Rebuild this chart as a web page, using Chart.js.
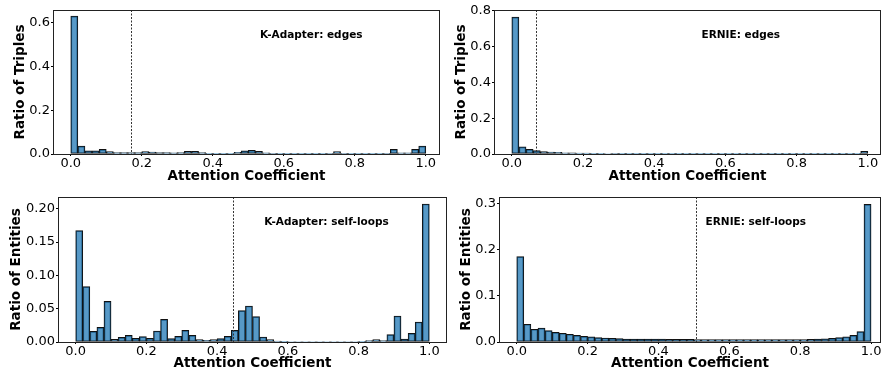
<!DOCTYPE html>
<html><head><meta charset="utf-8">
<script src="https://cdn.jsdelivr.net/npm/chart.js@4.4.0/dist/chart.umd.min.js"></script>
<style>
html,body{margin:0;padding:0;background:#fff;width:882px;height:373px;overflow:hidden;}
canvas{position:absolute;}
</style></head><body>
<canvas id="c1" width="441" height="186" style="left:0;top:0"></canvas>
<canvas id="c2" width="441" height="186" style="left:441px;top:0"></canvas>
<canvas id="c3" width="450" height="187" style="left:0;top:186px"></canvas>
<canvas id="c4" width="441" height="187" style="left:441px;top:186px"></canvas>
<script>
// ---- data ----
const binCenters = [0.01,0.03,0.05,0.07,0.09,0.11,0.13,0.15,0.17,0.19,
  0.21,0.23,0.25,0.27,0.29,0.31,0.33,0.35,0.37,0.39,
  0.41,0.43,0.45,0.47,0.49,0.51,0.53,0.55,0.57,0.59,
  0.61,0.63,0.65,0.67,0.69,0.71,0.73,0.75,0.77,0.79,
  0.81,0.83,0.85,0.87,0.89,0.91,0.93,0.95,0.97,0.99];
const xTickValues = [0.0,0.2,0.4,0.6,0.8,1.0];

const kaEdgesRatio = [0.630,0.036,0.015,0.015,0.021,0.011,0.006,0.006,0.006,0.006,
  0.011,0.009,0.007,0.006,0.005,0.006,0.012,0.012,0.006,0.003,
  0.003,0.003,0.003,0.008,0.015,0.017,0.012,0.005,0.002,0.001,
  0.001,0.001,0.001,0.001,0.001,0.001,0.002,0.011,0.002,0.001,
  0.001,0.001,0.001,0.001,0.002,0.021,0.005,0.005,0.021,0.036];
const ernieEdgesRatio = [0.765,0.040,0.026,0.019,0.014,0.011,0.009,0.007,0.006,0.005,
  0.0045,0.004,0.0035,0.003,0.0025,0.002,0.002,0.0018,0.0015,0.0013,
  0.0012,0.001,0.001,0.001,0.001,0.001,0.001,0.001,0.001,0.001,
  0.0008,0.0008,0.0008,0.0008,0.0008,0.0008,0.0008,0.0008,0.0008,0.0008,
  0.0008,0.0008,0.0008,0.0008,0.0008,0.0008,0.0008,0.0008,0.0008,0.015];
const kaSelfRatio = [0.167,0.083,0.016,0.022,0.061,0.004,0.007,0.010,0.0055,0.008,
  0.0055,0.0165,0.034,0.005,0.0085,0.0175,0.010,0.0035,0.0025,0.0035,
  0.005,0.0085,0.0175,0.047,0.054,0.038,0.0075,0.0035,0.0015,0.001,
  0.0008,0.0008,0.0008,0.0008,0.0008,0.0008,0.0008,0.0008,0.0008,0.0008,
  0.001,0.002,0.0035,0.002,0.011,0.039,0.0045,0.013,0.030,0.207];
const ernieSelfRatio = [0.185,0.0385,0.0276,0.030,0.0247,0.021,0.019,0.0167,0.0145,0.0123,
  0.011,0.0094,0.0087,0.008,0.0073,0.0065,0.0065,0.0065,0.0065,0.0065,
  0.0065,0.006,0.006,0.006,0.006,0.005,0.005,0.005,0.005,0.005,
  0.005,0.005,0.005,0.005,0.005,0.005,0.005,0.005,0.005,0.005,
  0.005,0.0058,0.0065,0.007,0.008,0.0094,0.011,0.0145,0.0225,0.298];

const yTicksKaEdges = [0.0,0.2,0.4,0.6];
const yTicksErnieEdges = [0.0,0.2,0.4,0.6,0.8];
const yTicksKaSelf = [0.00,0.05,0.10,0.15,0.20];
const yTicksErnieSelf = [0.0,0.1,0.2,0.3];

const kaEdgesThreshold = 0.171;
const ernieEdgesThreshold = 0.069;
const kaSelfThreshold = 0.446;
const ernieSelfThreshold = 0.507;

const panelLabels = ['K-Adapter: edges','ERNIE: edges','K-Adapter: self-loops','ERNIE: self-loops'];
const xTitle = 'Attention Coefficient';
const yTitleEdges = 'Ratio of Triples';
const yTitleSelf = 'Ratio of Entities';

// ---- drawing ----
Chart.defaults.font.family = "'DejaVu Sans'";
Chart.defaults.color = '#000';

const framePlugin = {
  id: 'frame',
  afterDatasetsDraw(chart, args, opts) {
    const {ctx, chartArea: a, scales} = chart;
    ctx.save();
    // threshold line
    const xp = scales.x.getPixelForValue(opts.threshold);
    ctx.strokeStyle = '#333';
    ctx.lineWidth = 1;
    ctx.setLineDash([2, 1.5]);
    ctx.beginPath();
    ctx.moveTo(Math.round(xp) + 0.5, a.top);
    ctx.lineTo(Math.round(xp) + 0.5, a.bottom);
    ctx.stroke();
    ctx.setLineDash([]);
    // frame
    ctx.strokeStyle = '#222';
    ctx.lineWidth = 1;
    ctx.strokeRect(a.left + 0.5, a.top + 0.5, a.right - a.left - 1, a.bottom - a.top);
    // label
    ctx.fillStyle = '#000';
    ctx.font = "bold 10.5px 'DejaVu Sans'";
    ctx.textBaseline = 'middle';
    ctx.textAlign = 'left';
    ctx.fillText(opts.label, scales.x.getPixelForValue(0.533), a.top + 0.175 * (a.bottom - a.top));
    ctx.restore();
  }
};

function makePanel(id, vals, yTicks, yDigits, yMax, xMax, threshold, label, yTitle, cfg) {
  new Chart(document.getElementById(id), {
    type: 'bar',
    data: {
      datasets: [{
        data: binCenters.map((c, i) => ({x: c, y: vals[i]})),
        backgroundColor: 'rgba(31,119,180,0.75)',
        borderColor: '#111',
        borderWidth: 1,
        borderSkipped: false,
        barPercentage: 1,
        categoryPercentage: 1
      }]
    },
    options: {
      responsive: false,
      animation: false,
      devicePixelRatio: 1,
      layout: {padding: {left: 0, top: cfg.top, right: cfg.right, bottom: 0}},
      plugins: {legend: {display: false}, tooltip: {enabled: false},
                frame: {threshold: threshold, label: label}},
      scales: {
        x: {
          type: 'linear', min: -0.05, max: xMax, offset: false,
          border: {display: false},
          grid: {display: true, drawOnChartArea: false, drawTicks: true, tickLength: 2, color: '#000', offset: false},
          ticks: {font: {size: 13}, padding: 0, maxRotation: 0, autoSkip: false,
                  callback: v => Number(v).toFixed(1)},
          afterBuildTicks: s => { s.ticks = xTickValues.map(v => ({value: v})); },
          title: {display: true, text: xTitle, font: {size: 13.5, weight: 'bold'}, padding: {top: 0, bottom: 1}},
          afterFit: s => { s.height = cfg.xh; s.paddingLeft = 0; s.paddingRight = 0; }
        },
        y: {
          type: 'linear', min: 0, max: yMax,
          border: {display: false},
          grid: {display: true, drawOnChartArea: false, drawTicks: true, tickLength: 2, color: '#000'},
          ticks: {font: {size: 13}, padding: 1, autoSkip: false,
                  callback: v => Number(v).toFixed(yDigits)},
          afterBuildTicks: s => { s.ticks = yTicks.map(v => ({value: v})); },
          title: {display: true, text: yTitle, font: {size: 13.5, weight: 'bold'}, padding: {top: cfg.ytp, bottom: 0}},
          afterFit: s => { s.width = cfg.yw; s.paddingTop = 0; s.paddingBottom = 0; }
        }
      }
    },
    plugins: [framePlugin]
  });
}

makePanel('c1', kaEdgesRatio, yTicksKaEdges, 1, 0.658, 1.04, kaEdgesThreshold, panelLabels[0], yTitleEdges,
  {top: 10, right: 1, xh: 32, yw: 53, ytp: 12});
makePanel('c2', ernieEdgesRatio, yTicksErnieEdges, 1, 0.805, 1.037, ernieEdgesThreshold, panelLabels[1], yTitleEdges,
  {top: 10, right: 1, xh: 32, yw: 53, ytp: 12});
makePanel('c3', kaSelfRatio, yTicksKaSelf, 2, 0.2175, 1.05, kaSelfThreshold, panelLabels[2], yTitleSelf,
  {top: 11, right: 3, xh: 31, yw: 58, ytp: 8});
makePanel('c4', ernieSelfRatio, yTicksErnieSelf, 1, 0.314, 1.028, ernieSelfThreshold, panelLabels[3], yTitleSelf,
  {top: 11, right: 1, xh: 31, yw: 58, ytp: 17});
</script>
</body></html>
